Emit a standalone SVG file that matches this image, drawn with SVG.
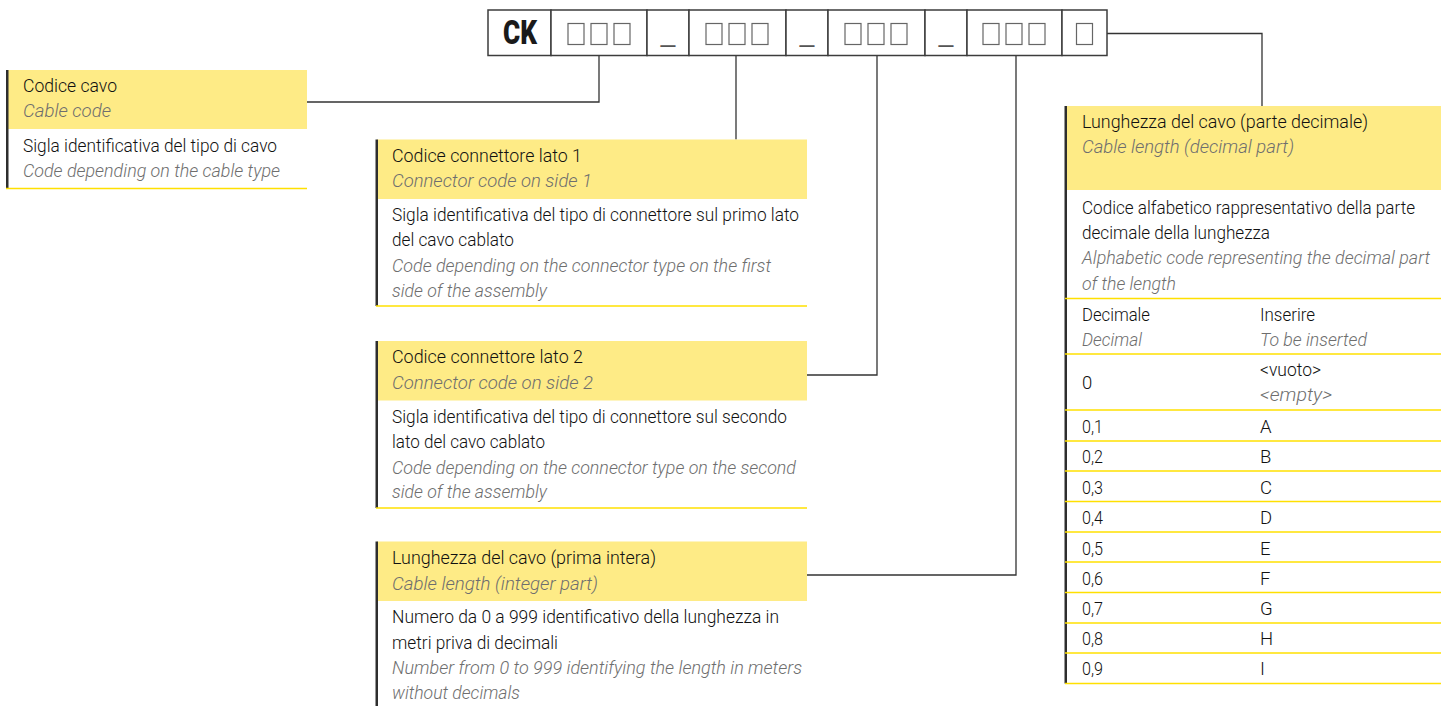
<svg xmlns="http://www.w3.org/2000/svg" width="1450" height="706" viewBox="0 0 1450 706">
  <style>
    .t { font-family: "Liberation Sans Narrow", "Roboto", "Liberation Sans", sans-serif; font-size: 18.5px; font-weight: 300; fill: #111111; }
    .i { font-style: italic; fill: #6e6e6e; }
    .hdr { fill: #FEEB86; }
    .bar { fill: #2e2e2e; }
    .sep { stroke: #FFE000; stroke-width: 1.6; fill: none; }
    .wire { fill: none; stroke: #333333; stroke-width: 1.3; }
    .cell { fill: #ffffff; stroke: #3c3c3c; stroke-width: 1.5; }
    .slot { fill: #ffffff; stroke: #666666; stroke-width: 1.2; }
    .ck { font-family: "Liberation Sans Narrow", "Roboto", "Liberation Sans", sans-serif; font-weight: 900; font-size: 33px; fill: #1a1a1a; }
    .us { font-family: "Liberation Sans", sans-serif; font-size: 26px; fill: #555555; }
  </style>

  <!-- connectors from the code fields to the description boxes -->
  <g id="connectors">
    <path class="wire" d="M599,56 V102 H307"/>
    <path class="wire" d="M736,56 V139.5"/>
    <path class="wire" d="M877,56 V375 H807"/>
    <path class="wire" d="M1016,56 V575 H807"/>
    <path class="wire" d="M1107,33.5 H1262 V106"/>
  </g>

  <!-- order code template -->
  <g id="code-bar">
    <rect class="cell" x="488" y="10" width="63" height="45.5"/>
    <rect class="cell" x="551" y="10" width="96" height="45.5"/>
    <rect class="cell" x="647" y="10" width="42" height="45.5"/>
    <rect class="cell" x="689" y="10" width="97" height="45.5"/>
    <rect class="cell" x="786" y="10" width="42" height="45.5"/>
    <rect class="cell" x="828" y="10" width="97" height="45.5"/>
    <rect class="cell" x="925" y="10" width="42" height="45.5"/>
    <rect class="cell" x="967" y="10" width="95" height="45.5"/>
    <rect class="cell" x="1062" y="10" width="45" height="45.5"/>
    <text class="ck" x="503" y="44.3" textLength="34" lengthAdjust="spacingAndGlyphs">CK</text>
    <!-- field 1 -->
    <rect class="slot" x="568" y="23.5" width="16" height="21"/>
    <rect class="slot" x="591" y="23.5" width="16" height="21"/>
    <rect class="slot" x="614" y="23.5" width="16" height="21"/>
    <text class="us" x="668" y="42" text-anchor="middle">_</text>
    <!-- field 2 -->
    <rect class="slot" x="706" y="23.5" width="16" height="21"/>
    <rect class="slot" x="729" y="23.5" width="16" height="21"/>
    <rect class="slot" x="752" y="23.5" width="16" height="21"/>
    <text class="us" x="807" y="42" text-anchor="middle">_</text>
    <!-- field 3 -->
    <rect class="slot" x="845" y="23.5" width="16" height="21"/>
    <rect class="slot" x="868" y="23.5" width="16" height="21"/>
    <rect class="slot" x="891" y="23.5" width="16" height="21"/>
    <text class="us" x="946" y="42" text-anchor="middle">_</text>
    <!-- field 4 -->
    <rect class="slot" x="983" y="23.5" width="16" height="21"/>
    <rect class="slot" x="1006" y="23.5" width="16" height="21"/>
    <rect class="slot" x="1029" y="23.5" width="16" height="21"/>
    <!-- field 5 -->
    <rect class="slot" x="1076.5" y="23.5" width="16" height="21"/>
  </g>

  <!-- cable code -->
  <g id="node-cable-code">
    <rect class="hdr" x="8" y="70" width="299" height="59"/>
    <rect class="bar" x="6" y="70" width="2.5" height="118.5"/>
    <line class="sep" x1="6" y1="188.5" x2="307" y2="188.5"/>
    <text class="t" x="23" y="92.3" textLength="94" lengthAdjust="spacingAndGlyphs">Codice cavo</text>
    <text class="t i" x="23" y="116.7" textLength="88" lengthAdjust="spacingAndGlyphs">Cable code</text>
    <text class="t" x="23" y="152" textLength="254" lengthAdjust="spacingAndGlyphs">Sigla identificativa del tipo di cavo</text>
    <text class="t i" x="23" y="176.7" textLength="257" lengthAdjust="spacingAndGlyphs">Code depending on the cable type</text>
  </g>

  <!-- connector side 1 -->
  <g id="node-connector-1">
    <rect class="hdr" x="377" y="139.5" width="430" height="59.5"/>
    <rect class="bar" x="375.5" y="139.5" width="2.5" height="166.5"/>
    <line class="sep" x1="376" y1="306" x2="807" y2="306"/>
    <text class="t" x="392" y="161.8" textLength="190" lengthAdjust="spacingAndGlyphs">Codice connettore lato 1</text>
    <text class="t i" x="392" y="187.4" textLength="200" lengthAdjust="spacingAndGlyphs">Connector code on side 1</text>
    <text class="t" x="392" y="221.2" textLength="407" lengthAdjust="spacingAndGlyphs">Sigla identificativa del tipo di connettore sul primo lato</text>
    <text class="t" x="392" y="246.4" textLength="122" lengthAdjust="spacingAndGlyphs">del cavo cablato</text>
    <text class="t i" x="392" y="271.9" textLength="379" lengthAdjust="spacingAndGlyphs">Code depending on the connector type on the first</text>
    <text class="t i" x="392" y="296.9" textLength="155" lengthAdjust="spacingAndGlyphs">side of the assembly</text>
  </g>

  <!-- connector side 2 -->
  <g id="node-connector-2">
    <rect class="hdr" x="377" y="341" width="430" height="59.5"/>
    <rect class="bar" x="375.5" y="341" width="2.5" height="167"/>
    <line class="sep" x1="376" y1="508" x2="807" y2="508"/>
    <text class="t" x="392" y="363.3" textLength="191" lengthAdjust="spacingAndGlyphs">Codice connettore lato 2</text>
    <text class="t i" x="392" y="389" textLength="201" lengthAdjust="spacingAndGlyphs">Connector code on side 2</text>
    <text class="t" x="392" y="422.7" textLength="395" lengthAdjust="spacingAndGlyphs">Sigla identificativa del tipo di connettore sul secondo</text>
    <text class="t" x="392" y="448" textLength="153" lengthAdjust="spacingAndGlyphs">lato del cavo cablato</text>
    <text class="t i" x="392" y="473.5" textLength="404" lengthAdjust="spacingAndGlyphs">Code depending on the connector type on the second</text>
    <text class="t i" x="392" y="498.4" textLength="155" lengthAdjust="spacingAndGlyphs">side of the assembly</text>
  </g>

  <!-- cable length, integer part -->
  <g id="node-length-int">
    <rect class="hdr" x="377" y="541.5" width="430" height="59.5"/>
    <rect class="bar" x="375.5" y="541.5" width="2.5" height="164.5"/>
    <text class="t" x="392" y="563.9" textLength="264" lengthAdjust="spacingAndGlyphs">Lunghezza del cavo (prima intera)</text>
    <text class="t i" x="392" y="589.5" textLength="206" lengthAdjust="spacingAndGlyphs">Cable length (integer part)</text>
    <text class="t" x="392" y="623.2" textLength="387" lengthAdjust="spacingAndGlyphs">Numero da 0 a 999 identificativo della lunghezza in</text>
    <text class="t" x="392" y="648.5" textLength="166" lengthAdjust="spacingAndGlyphs">metri priva di decimali</text>
    <text class="t i" x="392" y="674" textLength="410" lengthAdjust="spacingAndGlyphs">Number from 0 to 999 identifying the length in meters</text>
    <text class="t i" x="392" y="698.9" textLength="128" lengthAdjust="spacingAndGlyphs">without decimals</text>
  </g>

  <!-- cable length, decimal part, with lookup table -->
  <g id="node-length-dec">
    <rect class="hdr" x="1066" y="106" width="375" height="84"/>
    <rect class="bar" x="1064.5" y="106" width="2.5" height="577.5"/>
    <text class="t" x="1082" y="128.3" textLength="286" lengthAdjust="spacingAndGlyphs">Lunghezza del cavo (parte decimale)</text>
    <text class="t i" x="1082" y="153.3" textLength="212" lengthAdjust="spacingAndGlyphs">Cable length (decimal part)</text>
    <text class="t" x="1082" y="213.5" textLength="333" lengthAdjust="spacingAndGlyphs">Codice alfabetico rappresentativo della parte</text>
    <text class="t" x="1082" y="238.5" textLength="188" lengthAdjust="spacingAndGlyphs">decimale della lunghezza</text>
    <text class="t i" x="1082" y="264" textLength="348" lengthAdjust="spacingAndGlyphs">Alphabetic code representing the decimal part</text>
    <text class="t i" x="1082" y="289.5" textLength="94" lengthAdjust="spacingAndGlyphs">of the length</text>

    <line class="sep" x1="1065" y1="298.5" x2="1441" y2="298.5"/>
    <text class="t" x="1082" y="320.7" textLength="68" lengthAdjust="spacingAndGlyphs">Decimale</text>
    <text class="t i" x="1082" y="346" textLength="60" lengthAdjust="spacingAndGlyphs">Decimal</text>
    <text class="t" x="1260" y="320.7" textLength="55" lengthAdjust="spacingAndGlyphs">Inserire</text>
    <text class="t i" x="1260" y="346" textLength="107" lengthAdjust="spacingAndGlyphs">To be inserted</text>

    <line class="sep" x1="1065" y1="354" x2="1441" y2="354"/>
    <text class="t" x="1082" y="389.3">0</text>
    <text class="t" x="1260" y="376" textLength="61" lengthAdjust="spacingAndGlyphs">&lt;vuoto&gt;</text>
    <text class="t i" x="1260" y="400.5" textLength="72" lengthAdjust="spacingAndGlyphs">&lt;empty&gt;</text>

    <line class="sep" x1="1065" y1="410" x2="1441" y2="410"/>
    <text class="t" x="1082" y="432.7" textLength="21" lengthAdjust="spacingAndGlyphs">0,1</text><text class="t" x="1260" y="432.7">A</text>
    <line class="sep" x1="1065" y1="441" x2="1441" y2="441"/>
    <text class="t" x="1082" y="463.3" textLength="21" lengthAdjust="spacingAndGlyphs">0,2</text><text class="t" x="1260" y="463.3">B</text>
    <line class="sep" x1="1065" y1="471" x2="1441" y2="471"/>
    <text class="t" x="1082" y="493.7" textLength="21" lengthAdjust="spacingAndGlyphs">0,3</text><text class="t" x="1260" y="493.7">C</text>
    <line class="sep" x1="1065" y1="501.5" x2="1441" y2="501.5"/>
    <text class="t" x="1082" y="524.3" textLength="21" lengthAdjust="spacingAndGlyphs">0,4</text><text class="t" x="1260" y="524.3">D</text>
    <line class="sep" x1="1065" y1="532" x2="1441" y2="532"/>
    <text class="t" x="1082" y="554.5" textLength="21" lengthAdjust="spacingAndGlyphs">0,5</text><text class="t" x="1260" y="554.5">E</text>
    <line class="sep" x1="1065" y1="562" x2="1441" y2="562"/>
    <text class="t" x="1082" y="585" textLength="21" lengthAdjust="spacingAndGlyphs">0,6</text><text class="t" x="1260" y="585">F</text>
    <line class="sep" x1="1065" y1="592.5" x2="1441" y2="592.5"/>
    <text class="t" x="1082" y="615" textLength="21" lengthAdjust="spacingAndGlyphs">0,7</text><text class="t" x="1260" y="615">G</text>
    <line class="sep" x1="1065" y1="623" x2="1441" y2="623"/>
    <text class="t" x="1082" y="645.3" textLength="21" lengthAdjust="spacingAndGlyphs">0,8</text><text class="t" x="1260" y="645.3">H</text>
    <line class="sep" x1="1065" y1="653" x2="1441" y2="653"/>
    <text class="t" x="1082" y="675.3" textLength="21" lengthAdjust="spacingAndGlyphs">0,9</text><text class="t" x="1260" y="675.3">I</text>
    <line class="sep" x1="1065" y1="683.5" x2="1441" y2="683.5"/>
  </g>
</svg>
